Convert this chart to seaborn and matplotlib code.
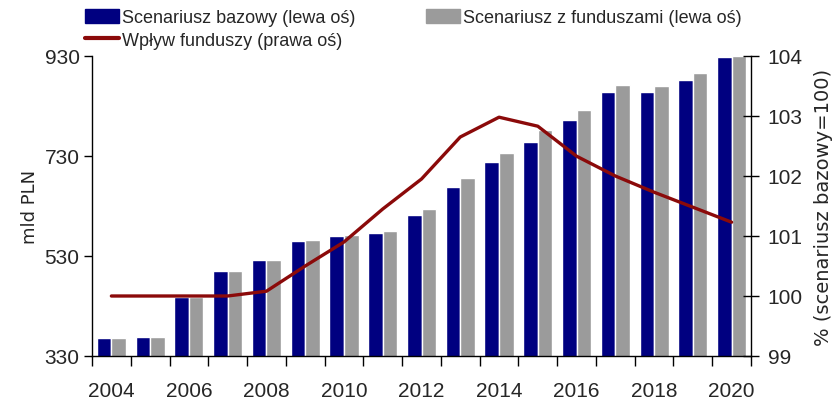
import matplotlib
matplotlib.use("Agg")
import matplotlib.pyplot as plt
from matplotlib.patches import Patch
from matplotlib.lines import Line2D
import seaborn as sns
import numpy as np
import pandas as pd

# data
years = [str(y) for y in range(2004, 2021)]
base = [366, 369, 448, 500, 522, 560, 570, 576, 612, 668, 718, 758, 802, 858, 858, 882, 928]
funds = [366, 369, 448, 500, 522, 562, 572, 580, 624, 686, 736, 782, 822, 872, 870, 896, 930]
impact = [100.0, 100.0, 100.0, 100.0, 100.08, 100.5, 100.9, 101.45, 101.95, 102.65,
          102.98, 102.83, 102.33, 102.0, 101.73, 101.48, 101.23]

lab_base = "Scenariusz bazowy (lewa oś)"
lab_funds = "Scenariusz z funduszami (lewa oś)"
lab_impact = "Wpływ funduszy (prawa oś)"

BLUE = "#000080"
GRAY = "#9b9b9b"
RED = "#8b0a0a"

sns.set_style("ticks")
plt.rcParams["font.family"] = ["Liberation Sans", "DejaVu Sans"]

df = pd.DataFrame({
    "year": years * 2,
    "value": base + funds,
    "scenario": [lab_base] * len(years) + [lab_funds] * len(years),
})

fig = plt.figure(figsize=(8.32, 4.06), dpi=100)
ax = fig.add_axes([92 / 832, 1 - 357 / 406, (751 - 92) / 832, 300 / 406])

sns.barplot(data=df, x="year", y="value", hue="scenario", palette=[BLUE, GRAY],
            width=0.75, gap=0, saturation=1, legend=False, ax=ax)
ax.set_ylim(330, 930)
ax.set_yticks([330, 530, 730, 930])
ax.set_xlim(-0.5, len(years) - 0.5)
ax.set_xlabel("")
ax.set_ylabel("mld PLN", family="DejaVu Sans", fontsize=13, labelpad=4)

pos = np.arange(len(years))
ax.set_xticks(pos[::2])
ax.set_xticklabels(years[::2])
ax.set_xticks(np.arange(-0.5, len(years), 1), minor=True)
ax.tick_params(axis="x", which="major", length=0, pad=18, labelsize=15)
ax.tick_params(axis="x", which="minor", length=7, width=1, direction="out", color="black")
ax.tick_params(axis="y", length=6, width=1, direction="out", labelsize=15, pad=3, color="black")
for s in ["top", "right"]:
    ax.spines[s].set_visible(False)
for s in ["left", "bottom"]:
    ax.spines[s].set_color("black")
    ax.spines[s].set_linewidth(1)

ax2 = ax.twinx()
sns.lineplot(x=pos, y=impact, color=RED, linewidth=2.4, ax=ax2)
ax2.set_ylim(99, 104)
ax2.set_yticks([99, 100, 101, 102, 103, 104])
ax2.tick_params(axis="y", length=12, width=1, direction="inout", labelsize=15, pad=6, color="black")
ax2.set_ylabel("% (scenariusz bazowy=100)", family="DejaVu Sans", fontsize=14, labelpad=8)
for s in ["top", "left", "bottom"]:
    ax2.spines[s].set_visible(False)
ax2.spines["right"].set_color("black")
ax2.spines["right"].set_linewidth(1)

handles = [Patch(color=BLUE), Line2D([0], [0], color=RED, lw=3), Patch(color=GRAY)]
labels = [lab_base, lab_impact, lab_funds]
fig.legend(handles, labels, ncol=2, loc="upper left", bbox_to_anchor=(85 / 832, 1 - 10 / 406),
           frameon=False, fontsize=13, handlelength=1.9, handleheight=0.8, handletextpad=0.15,
           columnspacing=3.9, labelspacing=0.3, borderpad=0, borderaxespad=0)

fig.savefig("out.png", dpi=100)
